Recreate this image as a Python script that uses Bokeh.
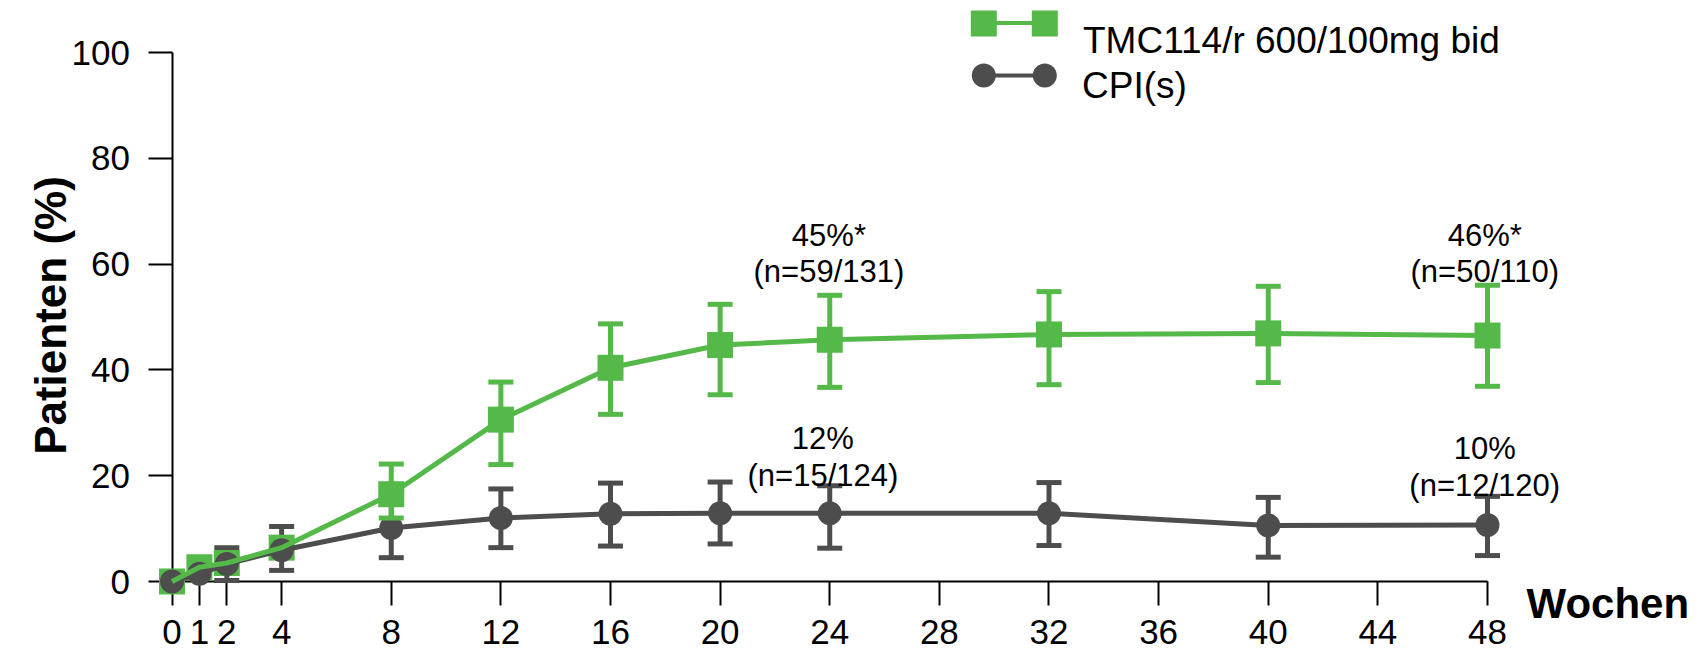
from bokeh.plotting import figure
from bokeh.models import (Range1d, FixedTicker, ColumnDataSource, Whisker, TeeHead,
                          Label, LinearAxis)
from bokeh.embed import file_html
from bokeh.resources import INLINE

# ---------------- data ----------------
weeks = [0, 1, 2, 4, 8, 12, 16, 20, 24, 32, 40, 48]
tmc_pct = [0, 2.7, 3.5, 6.4, 16.5, 30.6, 40.4, 44.7, 45.7, 46.7, 46.9, 46.5]
tmc_err_weeks = [8, 12, 16, 20, 24, 32, 40, 48]
tmc_low = [12.0, 22.1, 31.6, 35.3, 36.7, 37.2, 37.6, 36.9]
tmc_high = [22.2, 37.7, 48.7, 52.4, 54.1, 54.8, 55.8, 56.0]

cpi_pct = [0, 1.45, 3.3, 5.9, 10.1, 12.0, 12.8, 12.9, 12.9, 12.9, 10.6, 10.7]
cpi_err_weeks = [2, 4, 8, 12, 16, 20, 24, 32, 40, 48]
cpi_low = [0.2, 2.1, 4.5, 6.4, 6.7, 7.1, 6.3, 6.8, 4.6, 4.9]
cpi_high = [6.4, 10.4, 15.6, 17.5, 18.6, 18.8, 18.1, 18.7, 15.9, 16.1]

x_ticks = [0, 1, 2, 4, 8, 12, 16, 20, 24, 28, 32, 36, 40, 44, 48]
y_ticks = [0, 20, 40, 60, 80, 100]

series_names = ["TMC114/r 600/100mg bid", "CPI(s)"]
x_title = "Wochen"
y_title = "Patienten (%)"

tmc_annot = ["45%*", "46%*"]
tmc_annot_n = ["(n=59/131)", "(n=50/110)"]
cpi_annot = ["12%", "10%"]
cpi_annot_n = ["(n=15/124)", "(n=12/120)"]

# ---------------- layout / style ----------------
GREEN = "#54B948"
GREY = "#4D4D4D"
FONT = "Liberation Sans"

W, H = 1704, 658
OFF = 0                      # page offset of the canvas
X0PAGE, XS = 171.5, 27.406   # page x of week 0, px per week
Y0PAGE, YS = 581.0, 5.29     # page y of 0 %, px per %

x_start = -(X0PAGE - OFF) / XS
x_end = x_start + W / XS
y_end = (Y0PAGE - OFF) / YS
y_start = y_end - H / YS


def dx(px):
    return (px - X0PAGE) / XS


def dy(py):
    return (Y0PAGE - py) / YS


p = figure(width=W, height=H, x_range=Range1d(x_start, x_end),
           y_range=Range1d(y_start, y_end), output_backend="svg",
           toolbar_location=None, x_axis_location=None, y_axis_location=None,
           min_border=0, outline_line_color=None,
           background_fill_color="white", border_fill_color="white")
p.grid.visible = False

# axes
xaxis = LinearAxis(fixed_location=0, bounds=(0, 48),
                   ticker=FixedTicker(ticks=x_ticks, minor_ticks=[]))
yaxis = LinearAxis(fixed_location=0, bounds=(0, 100),
                   ticker=FixedTicker(ticks=y_ticks, minor_ticks=[]))
for ax in (xaxis, yaxis):
    ax.axis_line_color = "black"
    ax.axis_line_width = 2
    ax.major_tick_line_color = "black"
    ax.major_tick_line_width = 2
    ax.major_tick_out = 24
    ax.major_tick_in = 0
    ax.minor_tick_line_color = None
    ax.major_label_text_font = FONT
    ax.major_label_text_font_size = "35px"
    ax.major_label_text_color = "black"
    ax.level = "underlay"
xaxis.major_label_standoff = 14
yaxis.major_label_standoff = 18
p.add_layout(xaxis, "below")
p.add_layout(yaxis, "left")

# grey error bars (beneath)
src_c_err = ColumnDataSource(dict(x=cpi_err_weeks, lower=cpi_low, upper=cpi_high))
wc = Whisker(source=src_c_err, base="x", lower="lower", upper="upper",
             line_color=GREY, line_width=5, level="underlay",
             upper_head=TeeHead(size=25, line_color=GREY, line_width=5),
             lower_head=TeeHead(size=25, line_color=GREY, line_width=5))
p.add_layout(wc)

# series
p.scatter(weeks, tmc_pct, marker="square", size=26, fill_color=GREEN, line_color=None)
p.line(weeks, cpi_pct, line_color=GREY, line_width=5)
p.scatter(weeks, cpi_pct, marker="circle", size=24, fill_color=GREY, line_color=None)
p.line(weeks, tmc_pct, line_color=GREEN, line_width=5)

src_t_err = ColumnDataSource(dict(x=tmc_err_weeks, lower=tmc_low, upper=tmc_high))
wt = Whisker(source=src_t_err, base="x", lower="lower", upper="upper",
             line_color=GREEN, line_width=5, level="glyph",
             upper_head=TeeHead(size=25, line_color=GREEN, line_width=5),
             lower_head=TeeHead(size=25, line_color=GREEN, line_width=5))
p.add_layout(wt)

# annotations
ann_x_t = [23.97, 47.9]
ann_x_c = [23.75, 47.9]
ann_y_t = [dy(235), dy(271)]
ann_y_c = [[dy(438.3), dy(475)], [dy(448.3), dy(485)]]
for i in range(2):
    for txt, yy in zip([tmc_annot[i], tmc_annot_n[i]], ann_y_t):
        p.add_layout(Label(x=ann_x_t[i], y=yy, text=txt, text_font=FONT,
                           text_font_size="31px", text_align="center",
                           text_baseline="alphabetic", text_color="black"))
    for txt, yy in zip([cpi_annot[i], cpi_annot_n[i]], ann_y_c[i]):
        p.add_layout(Label(x=ann_x_c[i], y=yy, text=txt, text_font=FONT,
                           text_font_size="31px", text_align="center",
                           text_baseline="alphabetic", text_color="black"))

# axis titles
p.add_layout(Label(x=dx(1526), y=dy(603), text=x_title, text_font=FONT,
                   text_font_size="42px", text_font_style="bold", text_color="black",
                   text_align="left", text_baseline="alphabetic"))
p.add_layout(Label(x=dx(50), y=dy(315), text=y_title, text_font=FONT,
                   text_font_size="44px", text_font_style="bold", angle=1.5708,
                   text_color="black", text_align="center", text_baseline="alphabetic"))

# legend (drawn manually: marker - line - marker)
lg_x = [dx(983.3), dx(1044.3)]
p.line(lg_x, [dy(22.5)] * 2, line_color=GREEN, line_width=4)
p.scatter(lg_x, [dy(23)] * 2, marker="square", size=26, fill_color=GREEN, line_color=None)
p.line(lg_x, [dy(75)] * 2, line_color=GREY, line_width=4)
p.scatter(lg_x, [dy(75)] * 2, marker="circle", size=24, fill_color=GREY, line_color=None)
p.add_layout(Label(x=dx(1082.5), y=dy(40), text=series_names[0], text_font=FONT,
                   text_font_size="37px", text_color="black",
                   text_align="left", text_baseline="alphabetic"))
p.add_layout(Label(x=dx(1081.5), y=dy(85), text=series_names[1], text_font=FONT,
                   text_font_size="37px", text_color="black",
                   text_align="left", text_baseline="alphabetic"))

open("out.html", "w").write(file_html(p, INLINE))
